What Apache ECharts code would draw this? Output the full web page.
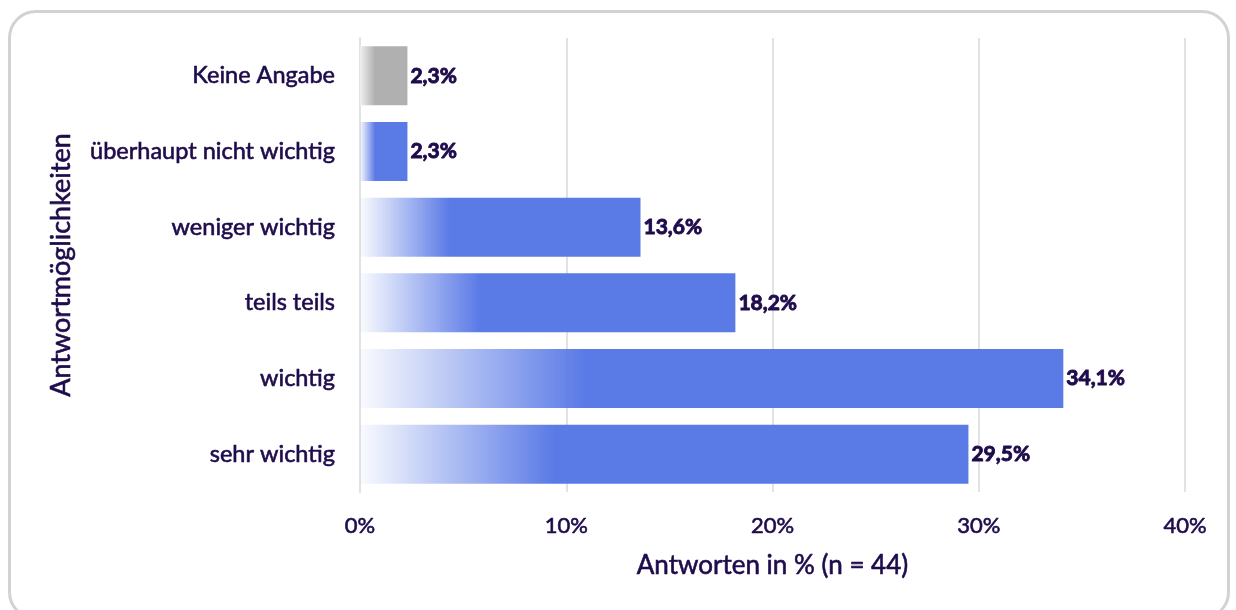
<!DOCTYPE html>
<html>
<head>
<meta charset="utf-8">
<script src="https://cdn.jsdelivr.net/npm/echarts@6/dist/echarts.min.js"></script>
<style>
html,body{margin:0;padding:0;background:#fff;width:1236px;height:610px;overflow:hidden;}
#frame{position:absolute;left:8px;top:10px;width:1222px;height:610px;border:3px solid #d2d2d2;border-radius:28px;box-sizing:border-box;}
#chart{position:absolute;left:0;top:0;width:1236px;height:610px;}
</style>
</head>
<body>
<div id="frame"></div>
<div id="chart"></div>
<script>
const categories = ['sehr wichtig', 'wichtig', 'teils teils', 'weniger wichtig', 'überhaupt nicht wichtig', 'Keine Angabe'];
const values = [29.5, 34.1, 18.2, 13.6, 2.3, 2.3];
const xTicks = [0, 10, 20, 30, 40];
const xAxisTitle = 'Antworten in % (n = 44)';
const yAxisTitle = 'Antwortmöglichkeiten';

const TEXT = '#1e0b4b';
const FONT = 'Lato';
const medium = {textBorderColor: TEXT, textBorderWidth: 0.6};

function grad(c, light) {
  return {
    type: 'linear', x: 0, y: 0, x2: 1, y2: 0,
    colorStops: [
      {offset: 0, color: light},
      {offset: 0.32, color: c},
      {offset: 1, color: c}
    ]
  };
}

const data = values.map((v, i) => ({
  value: v,
  itemStyle: {
    color: categories[i] === 'Keine Angabe'
      ? grad('#b0b0b0', '#f0f0f0')
      : grad('#5a7ae6', 'rgba(90,122,230,0.03)')
  }
}));

const chart = echarts.init(document.getElementById('chart'), null, {renderer: 'canvas'});
chart.setOption({
  animation: false,
  grid: {left: 360, right: 51, top: 38, bottom: 118, containLabel: false},
  xAxis: {
    type: 'value', min: xTicks[0], max: xTicks[xTicks.length - 1], interval: 10,
    name: xAxisTitle, nameLocation: 'middle', nameGap: 61,
    nameTextStyle: Object.assign({color: TEXT, fontSize: 26, fontFamily: FONT}, medium),
    axisLine: {show: false}, axisTick: {show: false},
    axisLabel: Object.assign({formatter: v => v + '%', color: TEXT, fontSize: 22, fontFamily: FONT, margin: 23}, medium),
    splitLine: {show: true, lineStyle: {color: '#e2e2e2', width: 2}}
  },
  yAxis: {
    type: 'category', data: categories,
    name: yAxisTitle, nameLocation: 'middle', nameGap: 285, nameRotate: 90,
    nameTextStyle: Object.assign({color: TEXT, fontSize: 27, fontFamily: FONT}, medium),
    axisLine: {show: true, lineStyle: {color: '#e2e2e2', width: 2}},
    axisTick: {show: false},
    axisLabel: Object.assign({color: TEXT, fontSize: 23.5, fontFamily: FONT, margin: 25}, medium),
    splitLine: {show: false}
  },
  series: [{
    type: 'bar', data: data, barWidth: 59,
    label: {
      show: true, position: 'right', distance: 3,
      formatter: p => p.value.toFixed(1).replace('.', ',') + '%',
      color: TEXT, fontSize: 21, fontFamily: FONT, fontWeight: 'bold',
      textBorderColor: TEXT, textBorderWidth: 0.9
    }
  }]
});
</script>
</body>
</html>
